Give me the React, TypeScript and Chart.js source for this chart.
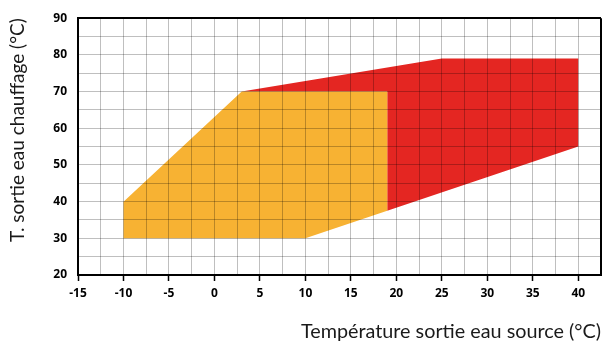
import React, { useEffect, useRef } from 'react';
import { Chart, registerables } from 'chart.js';

Chart.register(...registerables);

// Operating envelope polygons (x = source outlet temp, y = heating outlet temp)
const orangeX = [-10, -10, 3, 19, 19, 10];
const orangeY = [30, 40, 70, 70, 37.5, 30];
const redX = [3, 25, 40, 40, 19, 19];
const redY = [70, 79, 79, 55, 37.5, 70];

const xTickLabels = [-15, -10, -5, 0, 5, 10, 15, 20, 25, 30, 35, 40];
const yTickLabels = [20, 30, 40, 50, 60, 70, 80, 90];

const xTitle = 'Température sortie eau source (°C)';
const yTitle = 'T. sortie eau chauffage (°C)';

const X_MIN = -15;
const X_MAX = 42.5;
const Y_MIN = 20;
const Y_MAX = 90;

const toPoints = (xs: number[], ys: number[]) => xs.map((x, i) => ({ x, y: ys[i] }));

export default function App() {
  const ref = useRef<HTMLCanvasElement | null>(null);

  useEffect(() => {
    if (!ref.current) return;
    const gridGray = 'rgba(0,0,0,0.25)';
    const tickFont = { family: 'Open Sans', weight: 'bold', size: 12 };
    const chart = new Chart(ref.current, {
      type: 'line',
      data: {
        datasets: [
          {
            label: 'orange',
            data: toPoints(orangeX, orangeY),
            backgroundColor: '#F7B233',
            borderColor: 'transparent',
            borderWidth: 0,
            pointRadius: 0,
            tension: 0,
            fill: 'shape',
          },
          {
            label: 'red',
            data: toPoints(redX, redY),
            backgroundColor: '#E42622',
            borderColor: 'transparent',
            borderWidth: 0,
            pointRadius: 0,
            tension: 0,
            fill: 'shape',
          },
        ],
      },
      options: {
        responsive: false,
        animation: false,
        layout: { padding: { top: 15, right: 4, left: 0, bottom: 0 } },
        plugins: {
          legend: { display: false },
          tooltip: { enabled: false },
        },
        scales: {
          x: {
            type: 'linear',
            min: X_MIN,
            max: X_MAX,
            afterFit: (s: any) => {
              s.height = 68;
            },
            ticks: {
              stepSize: 2.5,
              autoSkip: false,
              maxRotation: 0,
              padding: 5,
              color: '#000',
              font: tickFont,
              callback: (v: any) => (xTickLabels.includes(Number(v)) ? String(v) : ''),
            },
            grid: {
              z: 1,
              color: (c: any) => (c.tick && c.tick.value === X_MAX ? '#000' : gridGray),
              lineWidth: (c: any) => (c.tick && c.tick.value === X_MAX ? 2 : 1),
              tickColor: (c: any) =>
                c.tick && xTickLabels.includes(c.tick.value) ? '#000' : 'rgba(0,0,0,0)',
              tickWidth: 1.5,
              tickLength: 6,
            },
            border: { color: '#000', width: 2, z: 1 },
            title: {
              display: true,
              text: xTitle,
              align: 'end',
              color: '#1a1a1a',
              font: { family: 'Lato', size: 19.8 },
              padding: { top: 0, bottom: 0 },
            },
          },
          y: {
            type: 'linear',
            min: Y_MIN,
            max: Y_MAX,
            afterFit: (s: any) => {
              s.width = 78;
            },
            ticks: {
              stepSize: 5,
              autoSkip: false,
              padding: 11,
              color: '#000',
              font: tickFont,
              callback: (v: any) => (yTickLabels.includes(Number(v)) ? String(v) : ''),
            },
            grid: {
              z: 1,
              drawTicks: false,
              color: (c: any) => (c.tick && c.tick.value === Y_MAX ? '#000' : gridGray),
              lineWidth: (c: any) => (c.tick && c.tick.value === Y_MAX ? 2 : 1),
            },
            border: { color: '#000', width: 2, z: 1 },
            title: {
              display: true,
              text: yTitle,
              align: 'end',
              color: '#1a1a1a',
              font: { family: 'Lato', size: 19 },
              padding: { top: 6, bottom: 0 },
            },
          },
        },
      },
    } as any);
    return () => chart.destroy();
  }, []);

  return (
    <canvas
      ref={ref}
      width={606}
      height={343}
      style={{ position: 'absolute', left: 0, top: 0, width: 606, height: 343 }}
    />
  );
}
